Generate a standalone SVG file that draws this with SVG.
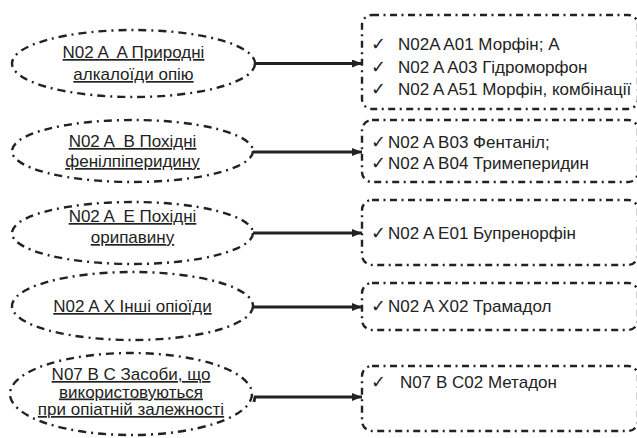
<svg xmlns="http://www.w3.org/2000/svg" width="637" height="438" viewBox="0 0 637 438">
<defs>
<marker id="arr" markerWidth="10" markerHeight="8" refX="10" refY="4" orient="auto" markerUnits="userSpaceOnUse">
<path d="M0,0 L10,4 L0,8 Z" fill="#222"/>
</marker>
<style>
.ell{fill:none;stroke:#222;stroke-width:2.4;stroke-dasharray:8 5 2 5}
.box{fill:none;stroke:#222;stroke-width:2.4;stroke-dasharray:7 4.5 2 4.5}
.con{stroke:#222;stroke-width:2.8;fill:none}
.lt{font-family:"Liberation Sans",Arial,sans-serif;font-size:17px;fill:#222;text-anchor:middle;text-decoration:underline}
.rt{font-family:"Liberation Sans",Arial,sans-serif;font-size:17px;fill:#222}
.ck{font-family:"DejaVu Sans",sans-serif;font-size:18px;fill:#222}
</style>
</defs>
<rect width="637" height="438" fill="#fff"/>
<g id="connectors">
<line class="con" x1="255" y1="63.5" x2="362" y2="63.5" marker-end="url(#arr)"/>
<line class="con" x1="253" y1="152" x2="362" y2="152" marker-end="url(#arr)"/>
<line class="con" x1="253" y1="233" x2="362" y2="233" marker-end="url(#arr)"/>
<line class="con" x1="253" y1="307" x2="362" y2="307" marker-end="url(#arr)"/>
<path class="con" d="M254,402 L255,397 L362,397" marker-end="url(#arr)"/>
</g>
<g id="e1">
<ellipse class="ell" cx="133.5" cy="63.5" rx="121.5" ry="33.5"/>
<text class="lt" x="133.5" y="58" xml:space="preserve">N02 A  A Природні</text>
<text class="lt" x="133.5" y="80">алкалоїди опію</text>
</g>
<g id="e2">
<ellipse class="ell" cx="132.5" cy="151" rx="120.5" ry="31"/>
<text class="lt" x="132.5" y="147" xml:space="preserve">N02 A  B Похідні</text>
<text class="lt" x="132.5" y="167">фенілпіперидину</text>
</g>
<g id="e3">
<ellipse class="ell" cx="132.5" cy="233" rx="120.5" ry="31"/>
<text class="lt" x="132.5" y="222" xml:space="preserve">N02 A  E Похідні</text>
<text class="lt" x="132.5" y="243">орипавину</text>
</g>
<g id="e4">
<ellipse class="ell" cx="132.5" cy="306" rx="120.5" ry="34"/>
<text class="lt" x="132.5" y="312">N02 A X Інші опіоїди</text>
</g>
<g id="e5">
<ellipse class="ell" cx="131" cy="394" rx="121" ry="41"/>
<text class="lt" x="131" y="380">N07 B C Засоби, що</text>
<text class="lt" x="131" y="397.5">використовуються</text>
<text class="lt" x="131" y="415">при опіатній залежності</text>
</g>
<g id="b1">
<rect class="box" x="362" y="15" width="276" height="94" rx="10"/>
<text class="ck" x="371" y="50">✓</text><text class="rt" x="398" y="50">N02A A01 Морфін; A</text>
<text class="ck" x="371" y="72.5">✓</text><text class="rt" x="398" y="72.5">N02 A A03 Гідроморфон</text>
<text class="ck" x="371" y="95">✓</text><text class="rt" x="398" y="95">N02 A A51 Морфін, комбінації</text>
</g>
<g id="b2">
<rect class="box" x="362" y="120" width="276" height="62" rx="10"/>
<text class="ck" x="371" y="148">✓</text><text class="rt" x="388" y="148">N02 A B03 Фентаніл;</text>
<text class="ck" x="371" y="169">✓</text><text class="rt" x="388" y="169">N02 A B04 Тримеперидин</text>
</g>
<g id="b3">
<rect class="box" x="362" y="200" width="276" height="65" rx="10"/>
<text class="ck" x="371" y="238.5">✓</text><text class="rt" x="388" y="238.5">N02 A E01 Бупренорфін</text>
</g>
<g id="b4">
<rect class="box" x="362" y="283" width="276" height="47" rx="10"/>
<text class="ck" x="371" y="312">✓</text><text class="rt" x="388" y="312">N02 A X02 Трамадол</text>
</g>
<g id="b5">
<rect class="box" x="362" y="366" width="276" height="65" rx="10"/>
<text class="ck" x="371" y="388">✓</text><text class="rt" x="400" y="388">N07 B C02 Метадон</text>
</g>
</svg>
